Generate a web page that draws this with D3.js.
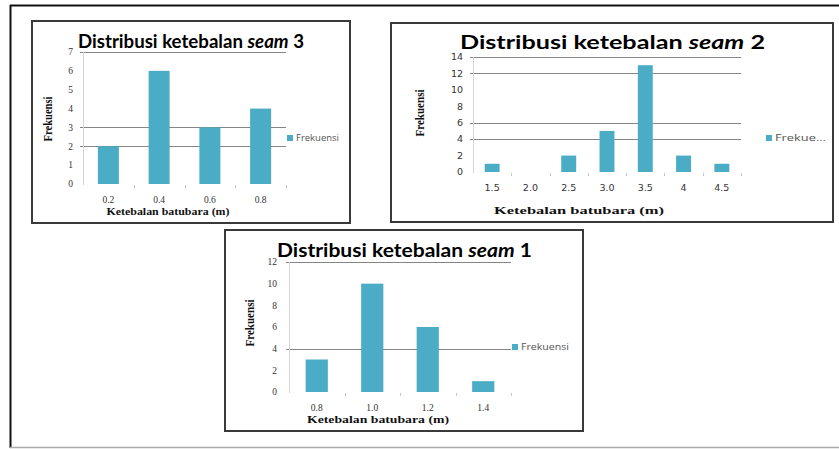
<!DOCTYPE html>
<html>
<head>
<meta charset="utf-8">
<script src="https://cdn.jsdelivr.net/npm/d3@7"></script>
<style>
  html, body { margin: 0; padding: 0; background: #fff; }
  svg { display: block; }
</style>
</head>
<body>
<svg id="chart" width="839" height="449"></svg>
<script>
// Thickness classes and frequencies per seam
const seam3Categories = ["0.2", "0.4", "0.6", "0.8"];
const seam3Values = [2, 6, 3, 4];
const seam3Ticks = [0, 1, 2, 3, 4, 5, 6, 7];
const seam3Grid = [7, 3, 2];

const seam2Categories = ["1.5", "2.0", "2.5", "3.0", "3.5", "4", "4.5"];
const seam2Values = [1, 0, 2, 5, 13, 2, 1];
const seam2Ticks = [0, 2, 4, 6, 8, 10, 12, 14];
const seam2Grid = [14, 12, 6, 4];

const seam1Categories = ["0.8", "1.0", "1.2", "1.4"];
const seam1Values = [3, 10, 6, 1];
const seam1Ticks = [0, 2, 4, 6, 8, 10, 12];
const seam1Grid = [12, 4];

const seriesName = "Frekuensi";
const xTitle = "Ketebalan batubara (m)";
const yTitle = "Frekuensi";

const BAR = "#4bacc6";
const svg = d3.select("#chart");

// page frame
svg.append("line").attr("x1", 10).attr("x2", 839).attr("y1", 5.5).attr("y2", 5.5)
  .attr("stroke", "#111").attr("stroke-width", 2);
svg.append("line").attr("x1", 10.5).attr("x2", 10.5).attr("y1", 5).attr("y2", 448)
  .attr("stroke", "#111").attr("stroke-width", 2);
svg.append("line").attr("x1", 10).attr("x2", 839).attr("y1", 447.5).attr("y2", 447.5)
  .attr("stroke", "#aaa").attr("stroke-width", 1.5);

function drawPanel(o) {
  const g = svg.append("g");

  // chart box
  g.append("rect")
    .attr("x", o.box[0]).attr("y", o.box[1])
    .attr("width", o.box[2] - o.box[0]).attr("height", o.box[3] - o.box[1])
    .attr("fill", "#fff").attr("stroke", "#3a3a3a").attr("stroke-width", 2);

  const x = d3.scaleBand().domain(o.categories)
    .range([o.plot.left, o.plot.right])
    .paddingInner(o.pad).paddingOuter(o.pad / 2);
  const y = d3.scaleLinear().domain([0, o.max]).range([o.plot.bottom, o.plot.top]);

  // horizontal gridlines
  g.append("g").selectAll("line").data(o.grid).join("line")
    .attr("x1", o.plot.left - 3).attr("x2", o.plot.right)
    .attr("y1", d => Math.round(y(d)) + 0.5).attr("y2", d => Math.round(y(d)) + 0.5)
    .attr("stroke", "#858585").attr("stroke-width", 1);

  // vertical value axis
  g.append("line")
    .attr("x1", o.plot.left + 0.5).attr("x2", o.plot.left + 0.5)
    .attr("y1", o.plot.top).attr("y2", o.plot.bottom + 1)
    .attr("stroke", "#d4d4d4").attr("stroke-width", 1);

  // category tick marks
  const bounds = o.categories.map(c => x(c) - x.step() * o.pad / 2);
  bounds.push(o.plot.right);
  g.append("g").selectAll("line").data(bounds.slice(1)).join("line")
    .attr("x1", d => Math.round(d) + 0.5).attr("x2", d => Math.round(d) + 0.5)
    .attr("y1", o.plot.bottom + 1).attr("y2", o.plot.bottom + 4)
    .attr("stroke", "#c8c8c8").attr("stroke-width", 1);

  // bars
  g.append("g").selectAll("rect").data(o.values).join("rect")
    .attr("x", (d, i) => x(o.categories[i]))
    .attr("y", d => y(d))
    .attr("width", x.bandwidth())
    .attr("height", d => y(0) - y(d))
    .attr("fill", BAR);

  // value tick labels
  g.append("g").selectAll("text").data(o.ticks).join("text")
    .attr("x", o.yLabelX).attr("y", d => y(d))
    .attr("dy", "0.35em").attr("text-anchor", "end")
    .attr("font-family", o.tickFont).attr("font-size", o.tickSize)
    .attr("fill", "#333")
    .text(d => d);

  // category tick labels
  g.append("g").selectAll("text").data(o.categories).join("text")
    .attr("x", d => x(d) + x.bandwidth() / 2).attr("y", o.xLabelY)
    .attr("dy", "0.35em").attr("text-anchor", "middle")
    .attr("font-family", o.tickFont).attr("font-size", o.tickSize)
    .attr("fill", "#333")
    .text(d => d);

  // title
  const t = g.append("text")
    .attr("x", o.title.x).attr("y", o.title.y)
    .attr("font-family", "Lato, 'Open Sans', sans-serif").attr("font-weight", "bold")
    .attr("font-size", 18).attr("fill", "#000")
    .attr("textLength", o.title.w).attr("lengthAdjust", "spacingAndGlyphs");
  t.append("tspan").text("Distribusi ketebalan ");
  t.append("tspan").attr("font-style", "italic").text("seam");
  t.append("tspan").text(" " + o.title.n);

  // axis titles
  g.append("text")
    .attr("x", o.xt.x).attr("y", o.xt.y).attr("dy", "0.35em")
    .attr("text-anchor", "middle")
    .attr("font-family", "'Liberation Serif', serif").attr("font-weight", "bold")
    .attr("font-size", 11).attr("fill", "#111")
    .attr("textLength", o.xt.w).attr("lengthAdjust", "spacingAndGlyphs")
    .text(xTitle);

  g.append("text")
    .attr("transform", `translate(${o.yt.x},${o.yt.y}) rotate(-90)`)
    .attr("dy", "0.35em").attr("text-anchor", "middle")
    .attr("font-family", "'Liberation Serif', serif").attr("font-weight", "bold")
    .attr("font-size", 12).attr("fill", "#111")
    .attr("textLength", o.yt.w).attr("lengthAdjust", "spacingAndGlyphs")
    .text(yTitle);

  // legend
  g.append("rect")
    .attr("x", o.legend.x).attr("y", o.legend.y - 3)
    .attr("width", 6).attr("height", 6).attr("fill", BAR);
  g.append("text")
    .attr("x", o.legend.x + 9).attr("y", o.legend.y).attr("dy", "0.35em")
    .attr("font-family", "'Open Sans', sans-serif").attr("font-size", 9.5)
    .attr("fill", "#555")
    .attr("textLength", o.legend.w).attr("lengthAdjust", "spacingAndGlyphs")
    .text(o.legend.label);
}

drawPanel({
  box: [32, 21, 350, 223],
  plot: { left: 83, right: 286, top: 52, bottom: 184 },
  categories: seam3Categories, values: seam3Values,
  ticks: seam3Ticks, grid: seam3Grid, max: 7, pad: 0.586,
  tickFont: "'Liberation Serif', serif", tickSize: 9.5,
  yLabelX: 73, xLabelY: 200,
  title: { x: 78, y: 48, w: 226, n: "3" },
  xt: { x: 168, y: 211, w: 123 },
  yt: { x: 48, y: 119, w: 45 },
  legend: { x: 287, y: 138, w: 43, label: seriesName }
});

drawPanel({
  box: [391, 23, 833, 222],
  plot: { left: 473, right: 741, top: 57, bottom: 172 },
  categories: seam2Categories, values: seam2Values,
  ticks: seam2Ticks, grid: seam2Grid, max: 14, pad: 0.61,
  tickFont: "'DejaVu Sans', sans-serif", tickSize: 9.5,
  yLabelX: 463, xLabelY: 188,
  title: { x: 460, y: 49, w: 305, n: "2" },
  xt: { x: 579, y: 210, w: 170 },
  yt: { x: 420, y: 113, w: 47 },
  legend: { x: 766, y: 138, w: 51, label: "Frekue..." }
});

drawPanel({
  box: [225, 230, 583, 431],
  plot: { left: 289, right: 511, top: 262, bottom: 392 },
  categories: seam1Categories, values: seam1Values,
  ticks: seam1Ticks, grid: seam1Grid, max: 12, pad: 0.6,
  tickFont: "'Liberation Serif', serif", tickSize: 9.5,
  yLabelX: 277, xLabelY: 408,
  title: { x: 277, y: 257, w: 255, n: "1" },
  xt: { x: 378, y: 419, w: 142 },
  yt: { x: 250, y: 323, w: 47 },
  legend: { x: 512, y: 347, w: 48, label: seriesName }
});
</script>
</body>
</html>
